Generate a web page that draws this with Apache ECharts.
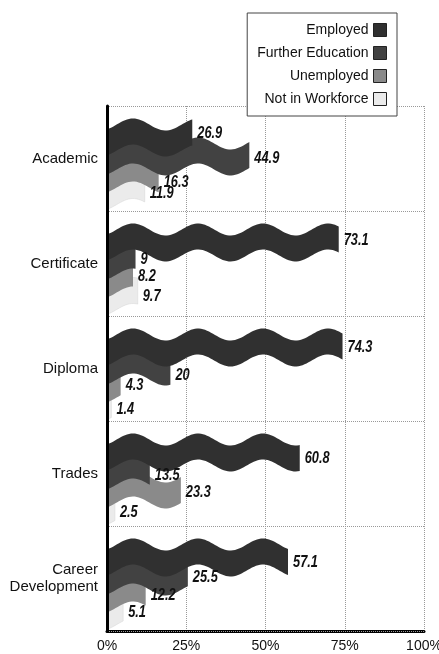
<!DOCTYPE html>
<html>
<head>
<meta charset="utf-8">
<script src="https://cdn.jsdelivr.net/npm/echarts@6/dist/echarts.min.js"></script>
<style>
  html, body { margin: 0; padding: 0; background: #fff; }
  #chart { width: 439px; height: 654px; }
</style>
</head>
<body>
<div id="chart"></div>
<script>
// data (percent of graduates)
const categories = ['Academic', 'Certificate', 'Diploma', 'Trades', 'Career\nDevelopment'];
const employed = [26.9, 73.1, 74.3, 60.8, 57.1];
const furtherEducation = [44.9, 9, 20, 13.5, 25.5];
const unemployed = [16.3, 8.2, 4.3, 23.3, 12.2];
const notInWorkforce = [11.9, 9.7, 1.4, 2.5, 5.1];
const xTicks = [0, 25, 50, 75, 100];

const seriesNames = ['Employed', 'Further Education', 'Unemployed', 'Not in Workforce'];
const seriesData = [employed, furtherEducation, unemployed, notInWorkforce];
const seriesColors = ['#303030', '#424242', '#8a8a8a', '#ebebeb'];

// ribbon look
const bandOffset = [-21, -2, 16, 33]; // px from category centre
const labelShift = [1, 4, 3, 5];
const ribbonH = 26;
const waveAmp = 6, waveLen = 65, wavePhase = 26;
const labelFont = 'italic bold 16px "Liberation Sans", Arial, sans-serif';

function wave(dx) {
  return -waveAmp * Math.cos(2 * Math.PI * (dx - wavePhase) / waveLen);
}

function ribbonItem(sIdx) {
  return function (params, api) {
    const cat = api.value(0), v = api.value(1);
    const p0 = api.coord([0, cat]);
    const p1 = api.coord([v, cat]);
    const cy = p0[1] + bandOffset[sIdx];
    const pts = [];
    for (let x = p0[0]; x < p1[0]; x += 2) pts.push([x, cy - ribbonH / 2 + wave(x - p0[0])]);
    pts.push([p1[0], cy - ribbonH / 2 + wave(p1[0] - p0[0])]);
    pts.push([p1[0], cy + ribbonH / 2 + wave(p1[0] - p0[0])]);
    for (let x = p1[0] - 2; x > p0[0]; x -= 2) pts.push([x, cy + ribbonH / 2 + wave(x - p0[0])]);
    pts.push([p0[0], cy + ribbonH / 2 + wave(0)]);
    return {
      type: 'polygon',
      shape: { points: pts },
      style: { fill: seriesColors[sIdx], stroke: sIdx === 3 ? '#d4d4d4' : null, lineWidth: 0.5 }
    };
  };
}

function labelItem(sIdx) {
  return function (params, api) {
    const cat = api.value(0), v = api.value(1);
    const p0 = api.coord([0, cat]);
    const p1 = api.coord([v, cat]);
    const cy = p0[1] + bandOffset[sIdx] + wave(p1[0] - p0[0]);
    return {
      type: 'text',
      x: p1[0] + 5,
      y: cy + labelShift[sIdx],
      scaleX: 0.8,
      style: { text: String(v), font: labelFont, fill: '#111', verticalAlign: 'middle', align: 'left' }
    };
  };
}

const series = [];
seriesNames.forEach(function (name, s) {
  const d = seriesData[s].map(function (v, i) { return [i, v]; });
  series.push({
    name: name, type: 'custom', z: 5 - s,
    itemStyle: { color: seriesColors[s] },
    encode: { x: 1, y: 0 },
    renderItem: ribbonItem(s), data: d
  });
  series.push({
    name: name, type: 'custom', z: 20,
    itemStyle: { color: seriesColors[s] },
    encode: { x: 1, y: 0 },
    renderItem: labelItem(s), data: d
  });
});

const chart = echarts.init(document.getElementById('chart'));
chart.setOption({
  animation: false,
  legend: {
    data: seriesNames.map(function (n, s) {
      return { name: n, itemStyle: { color: seriesColors[s], borderColor: '#222', borderWidth: 1 } };
    }),
    orient: 'vertical', align: 'right',
    right: 42, top: 13,
    icon: 'rect', itemWidth: 13, itemHeight: 13, itemGap: 9,
    padding: 10,
    backgroundColor: '#fff', borderColor: '#444', borderWidth: 1,
    textStyle: { fontFamily: '"Liberation Sans", Arial, sans-serif', fontSize: 14, color: '#111' },
    selectedMode: false, z: 30
  },
  grid: { left: 107, right: 15, top: 106, bottom: 23, containLabel: false, outerBoundsMode: 'none' },
  xAxis: {
    type: 'value', min: 0, max: 100, interval: 25,
    axisLine: { show: true, lineStyle: { color: '#000', width: 3 } },
    axisTick: { show: false },
    axisLabel: {
      formatter: '{value}%', margin: 8, fontSize: 14, color: '#111',
      fontFamily: '"Liberation Sans", Arial, sans-serif'
    },
    splitLine: { show: true, lineStyle: { color: '#999', type: 'dotted', width: 1 } }
  },
  yAxis: {
    type: 'category', data: categories, inverse: true, z: 10,
    axisLine: { show: true, lineStyle: { color: '#000', width: 3 } },
    axisTick: { show: false },
    axisLabel: {
      margin: 9, fontSize: 15, color: '#111', lineHeight: 17,
      fontFamily: '"Liberation Sans", Arial, sans-serif'
    },
    splitLine: { show: true, lineStyle: { color: '#999', type: 'dotted', width: 1 } }
  },
  series: series
});
</script>
</body>
</html>
